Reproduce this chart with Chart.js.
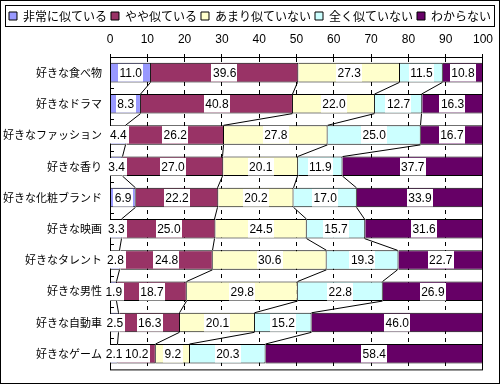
<!DOCTYPE html>
<html>
<head>
<meta charset="utf-8">
<script src="https://cdn.jsdelivr.net/npm/chart.js@4.4.1/dist/chart.umd.min.js"></script>
<style>
  html, body { margin: 0; padding: 0; background: #fff; }
  #c { display: block; }
</style>
</head>
<body>
<canvas id="c" width="500" height="384"></canvas>
<script>
const categories = ['好きな食べ物', '好きなドラマ', '好きなファッション', '好きな香り', '好きな化粧ブランド',
  '好きな映画', '好きなタレント', '好きな男性', '好きな自動車', '好きなゲーム'];
const seriesNames = ['非常に似ている', 'やや似ている', 'あまり似ていない', '全く似ていない', 'わからない'];
const seriesColors = ['#9999FF', '#993366', '#FFFFCC', '#CCFFFF', '#660066'];

const veryAlike     = [11.0, 8.3, 4.4, 3.4, 6.9, 3.3, 2.8, 1.9, 2.5, 2.1];
const somewhatAlike = [39.6, 40.8, 26.2, 27.0, 22.2, 25.0, 24.8, 18.7, 16.3, 10.2];
const notVeryAlike  = [27.3, 22.0, 27.8, 20.1, 20.2, 24.5, 30.6, 29.8, 20.1, 9.2];
const notAtAllAlike = [11.5, 12.7, 25.0, 11.9, 17.0, 15.7, 19.3, 22.8, 15.2, 20.3];
const dontKnow      = [10.8, 16.3, 16.7, 37.7, 33.9, 31.6, 22.7, 26.9, 46.0, 58.4];

const xTicks = [0, 10, 20, 30, 40, 50, 60, 70, 80, 90, 100];

const series = [veryAlike, somewhatAlike, notVeryAlike, notAtAllAlike, dontKnow];
// 100% stacked: each row is scaled to its own total
const totals = categories.map((c, i) => series.reduce((s, arr) => s + arr[i], 0));

const NUM_FONT = "'Liberation Sans', Arial, 'Noto Sans CJK JP', sans-serif";
const JP_FONT = "'Noto Sans CJK JP', 'Liberation Sans', sans-serif";

const decor = {
  id: 'decor',
  afterDatasetsDraw(chart) {
    const ctx = chart.ctx;
    const a = chart.chartArea;
    const ys = chart.scales.y;
    const metas = series.map((s, k) => chart.getDatasetMeta(k));
    ctx.save();
    ctx.strokeStyle = '#000';
    ctx.lineWidth = 1;

    // series lines between neighbouring bars
    ctx.beginPath();
    for (let i = 0; i < categories.length - 1; i++) {
      for (let k = 0; k < metas.length - 1; k++) {
        const b0 = metas[k].data[i], b1 = metas[k].data[i + 1];
        ctx.moveTo(Math.round(b0.x) - 0.5, b0.y + b0.height / 2);
        ctx.lineTo(Math.round(b1.x) - 0.5, b1.y - b1.height / 2);
      }
    }
    ctx.stroke();

    // small inner ticks on category axis
    ctx.beginPath();
    for (let i = 0; i < categories.length - 1; i++) {
      const y = Math.round((ys.getPixelForValue(i) + ys.getPixelForValue(i + 1)) / 2) + 0.5;
      ctx.moveTo(a.left, y);
      ctx.lineTo(a.left + 4, y);
    }
    ctx.stroke();

    // plot frame
    ctx.strokeRect(a.left + 0.5, a.top + 0.5, a.right - a.left - 1, a.bottom - a.top);

    // data labels with white boxes
    ctx.font = '12px ' + NUM_FONT;
    ctx.textAlign = 'center';
    ctx.textBaseline = 'middle';
    metas.forEach((meta, k) => {
      meta.data.forEach((bar, i) => {
        const txt = series[k][i].toFixed(1);
        const cx = (bar.base + bar.x) / 2;
        const w = ctx.measureText(txt).width + 3;
        const h = bar.height - 2;
        ctx.fillStyle = '#fff';
        ctx.fillRect(Math.round(cx - w / 2), Math.round(bar.y - h / 2), Math.round(w), h);
        ctx.fillStyle = '#000';
        ctx.fillText(txt, cx, bar.y + 1);
      });
    });
    ctx.restore();
  },
  afterDraw(chart) {
    const ctx = chart.ctx;
    ctx.save();
    ctx.strokeStyle = '#000';
    ctx.lineWidth = 1;
    // legend frame
    const hb = chart.legend.legendHitBoxes;
    const l = Math.min(...hb.map(h => h.left));
    const r = Math.max(...hb.map(h => h.left + h.width));
    const t = hb[0].top, b = hb[0].top + hb[0].height;
    ctx.strokeRect(Math.round(l) - 3.5, Math.round(t) - 4.5, Math.round(r - l) + 7, Math.round(b - t) + 9);
    // outer border
    ctx.strokeRect(0.5, 0.5, chart.width - 1, chart.height - 1);
    ctx.restore();
  }
};

new Chart(document.getElementById('c'), {
  type: 'bar',
  data: {
    labels: categories,
    datasets: series.map((arr, k) => ({
      label: seriesNames[k],
      data: arr.map((v, i) => v / totals[i] * 100),
      backgroundColor: seriesColors[k],
      borderColor: '#000',
      borderWidth: 1,
      borderSkipped: 'start',
      barPercentage: 0.625,
      categoryPercentage: 1,
      yAxisID: 'y'
    }))
  },
  options: {
    indexAxis: 'y',
    responsive: false,
    animation: false,
    events: [],
    layout: { padding: { top: 6, left: 0, right: 0, bottom: 7 } },
    plugins: {
      legend: {
        position: 'top',
        labels: {
          boxWidth: 8,
          boxHeight: 8,
          padding: 4,
          color: '#000',
          font: { size: 12, family: JP_FONT }
        }
      },
      tooltip: { enabled: false }
    },
    scales: {
      x: {
        position: 'top',
        stacked: true,
        min: 0,
        max: 100,
        afterBuildTicks: s => { s.ticks = xTicks.map(v => ({ value: v })); },
        afterFit: s => { s.height = 25; },
        grid: { color: '#000', lineWidth: 1, tickLength: 3, tickColor: '#000' },
        border: { display: true, color: '#000', dash: [4, 4] },
        ticks: { color: '#000', padding: 7, font: { size: 12, family: NUM_FONT }, maxRotation: 0 }
      },
      y: {
        stacked: true,
        afterFit: s => { s.width = 110; },
        grid: { display: false, drawTicks: false },
        border: { display: false },
        ticks: { color: '#000', padding: 8, font: { size: 11, family: JP_FONT } }
      },
      y2: {
        type: 'category',
        position: 'right',
        afterFit: s => { s.width = 15; },
        grid: { display: false, drawTicks: false },
        border: { display: false },
        ticks: { display: false }
      }
    }
  },
  plugins: [decor]
});
</script>
</body>
</html>
